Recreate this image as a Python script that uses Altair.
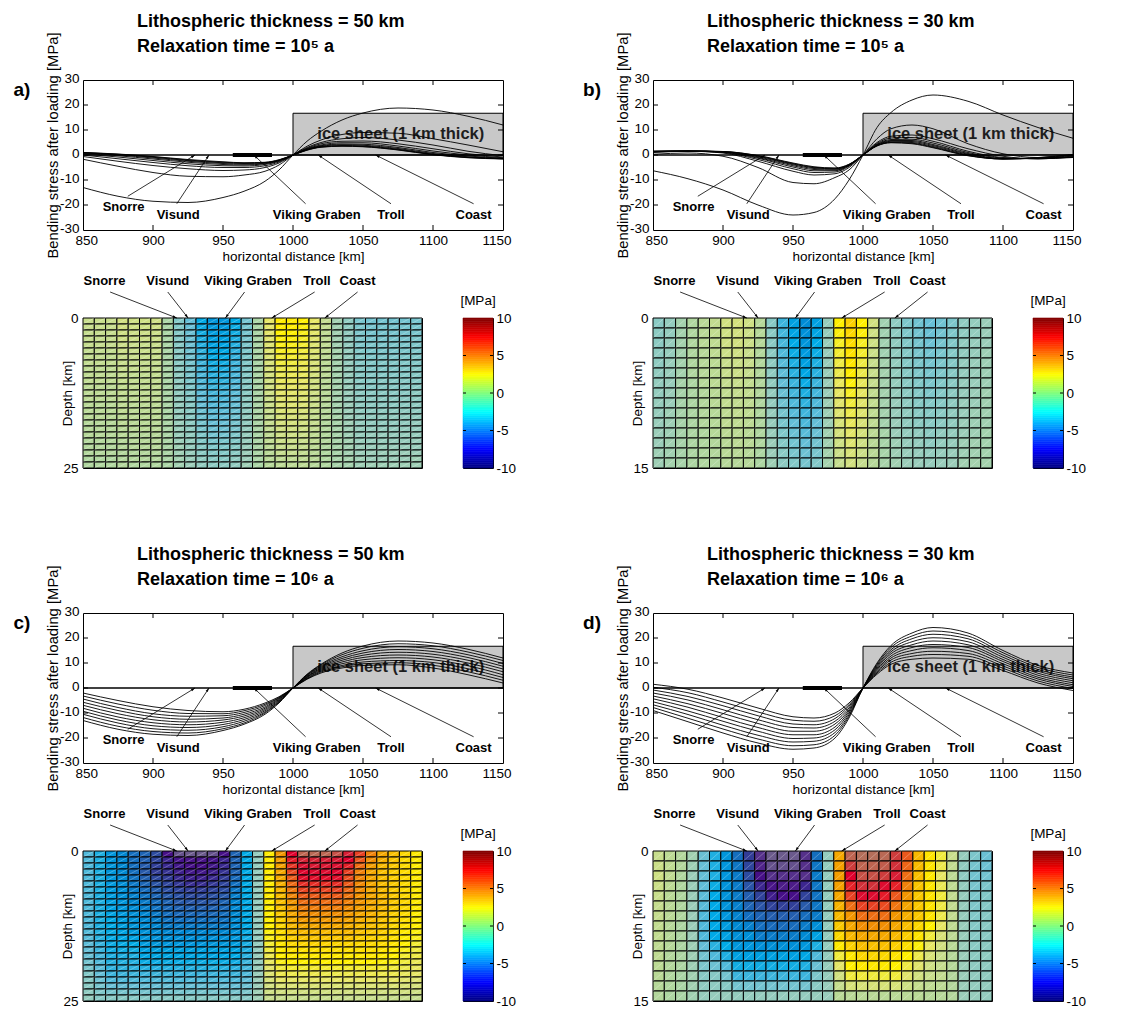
import math
import altair as alt
import pandas as pd

FONT = "Liberation Sans"

# ---------------------------------------------------------------- data
X_KM = [850, 875, 900, 925, 950, 965, 980, 990, 1000, 1010, 1020, 1035, 1050, 1075, 1100, 1125, 1150]

CURVES_A = [
    [-13, -16.5, -18.5, -19, -17, -14.5, -10.5, -6, 0, 5.5, 9.5, 14, 16.8, 18.8, 18, 15.5, 12],
    [-1.7, -4.5, -7, -8.5, -8.7, -8, -6.5, -4, 0, 3.5, 6, 8.2, 9, 8.7, 6.5, 4, 1.3],
    [-0.6, -2.5, -4.2, -5.5, -6.2, -6, -5, -3.2, 0, 3, 5, 6.5, 7, 6, 4, 1.5, -0.3],
    [0, -1.5, -3, -4.3, -5, -5, -4.3, -2.8, 0, 2.7, 4.5, 5.5, 5.6, 4.5, 2.5, 0.5, -0.8],
    [0.4, -0.8, -2.2, -3.5, -4.3, -4.4, -3.8, -2.5, 0, 2.5, 4, 4.9, 4.9, 3.6, 1.6, 0, -1.1],
    [0.6, -0.3, -1.6, -2.9, -3.8, -4, -3.5, -2.3, 0, 2.3, 3.7, 4.4, 4.3, 3, 1, -0.4, -1.3],
    [0.8, 0, -1.2, -2.5, -3.4, -3.7, -3.3, -2.2, 0, 2.2, 3.5, 4.1, 3.9, 2.6, 0.6, -0.7, -1.4],
    [0.9, 0.2, -0.9, -2.2, -3.1, -3.4, -3.1, -2.1, 0, 2.1, 3.3, 3.8, 3.6, 2.3, 0.3, -0.9, -1.5],
    [1, 0.3, -0.7, -2, -2.9, -3.2, -3, -2, 0, 2, 3.2, 3.6, 3.4, 2.1, 0.2, -1, -1.5],
    [1, 0.4, -0.6, -1.8, -2.7, -3.1, -2.9, -1.9, 0, 1.9, 3.1, 3.5, 3.3, 2, 0.1, -1.1, -1.6],
]
CURVES_B = [
    [-6.3, -9.5, -14, -20, -24, -23, -17.5, -10, 0, 11, 17, 22, 24, 21.5, 16, 11, 6.7],
    [0.3, 0.8, -0.5, -5, -11, -11.5, -9, -6, 0, 6.5, 10.5, 12, 10.5, 4.5, 0.5, -1, -1],
    [1, 1.5, 0.8, -2.5, -6.5, -8, -7.5, -5, 0, 5, 7.5, 8, 6.5, 2.5, -0.5, -1.5, -1],
    [1.2, 1.5, 1, -1.8, -5.5, -7, -6.8, -4.5, 0, 4.6, 6.8, 7, 5.5, 1.5, -1, -1.5, -0.8],
    [1.3, 1.6, 1.1, -1.3, -4.8, -6.3, -6.3, -4.3, 0, 4.3, 6.2, 6.3, 4.8, 1, -1.2, -1.5, -0.6],
    [1.4, 1.6, 1.2, -1, -4.3, -5.8, -6, -4.1, 0, 4.1, 5.8, 5.8, 4.2, 0.6, -1.4, -1.4, -0.4],
    [1.4, 1.6, 1.3, -0.7, -3.9, -5.4, -5.7, -4, 0, 3.9, 5.5, 5.4, 3.8, 0.3, -1.5, -1.3, -0.2],
    [1.5, 1.6, 1.3, -0.5, -3.6, -5.1, -5.5, -3.9, 0, 3.8, 5.2, 5, 3.4, 0, -1.6, -1.2, 0],
    [1.5, 1.6, 1.4, -0.3, -3.4, -4.9, -5.3, -3.8, 0, 3.7, 5, 4.7, 3.1, -0.2, -1.6, -1.1, 0.1],
    [1.5, 1.6, 1.4, -0.2, -3.2, -4.7, -5.2, -3.7, 0, 3.6, 4.9, 4.5, 2.9, -0.3, -1.6, -1, 0.2],
]
CURVES_C = [
    [-13, -16.5, -18.5, -19, -17, -14.5, -10.5, -6, 0, 5.5, 9.5, 14, 16.8, 18.8, 18, 15.5, 12],
    [-11.8, -15.3, -17.4, -18, -16.3, -14, -10, -5.7, 0, 5.3, 9.2, 13.3, 15.9, 17.7, 16.9, 14.4, 11],
    [-10.5, -14, -16.3, -16.9, -15.5, -13.3, -9.6, -5.5, 0, 5.1, 8.8, 12.5, 14.9, 16.5, 15.7, 13.3, 9.8],
    [-9.3, -12.8, -15.1, -15.8, -14.6, -12.6, -9.1, -5.2, 0, 4.9, 8.4, 11.8, 14, 15.4, 14.6, 12.2, 8.7],
    [-8.1, -11.6, -13.9, -14.7, -13.7, -11.9, -8.6, -4.9, 0, 4.6, 8, 11.1, 13.1, 14.3, 13.5, 11.1, 7.6],
    [-6.9, -10.3, -12.7, -13.6, -12.8, -11.2, -8.1, -4.6, 0, 4.4, 7.6, 10.4, 12.2, 13.2, 12.4, 10, 6.5],
    [-5.7, -9, -11.5, -12.5, -12, -10.5, -7.6, -4.3, 0, 4.2, 7.2, 9.7, 11.3, 12.1, 11.3, 8.9, 5.3],
    [-4.4, -7.8, -10.3, -11.3, -11.1, -9.8, -7, -4, 0, 3.9, 6.8, 9, 10.4, 11, 10.2, 7.7, 4.2],
    [-3.2, -6.4, -8.9, -10.2, -10.3, -9.1, -6.5, -3.8, 0, 3.7, 6.4, 8.5, 9.7, 10.1, 9.1, 6.5, 3.1],
    [-2, -5, -7.5, -9, -9.5, -8.5, -6, -3.5, 0, 3.5, 6, 8, 9, 9.3, 8, 5.3, 2],
]
CURVES_D = [
    [-9, -13.5, -18, -22, -24.5, -24, -20, -12, 0, 10, 17, 22, 24.2, 22, 15, 9, 6],
    [-7.8, -12.1, -16.4, -20.4, -23.1, -22.7, -18.9, -11.3, 0, 9.5, 16.2, 20.8, 22.8, 20.8, 14.1, 8.2, 5.2],
    [-6.7, -10.6, -14.9, -18.9, -21.6, -21.3, -17.8, -10.7, 0, 9, 15.3, 19.7, 21.5, 19.7, 13.2, 7.4, 4.4],
    [-5.5, -9.2, -13.3, -17.3, -20.2, -20, -16.7, -10, 0, 8.5, 14.5, 18.5, 20.1, 18.5, 12.3, 6.7, 3.7],
    [-4.3, -7.7, -11.8, -15.8, -18.7, -18.7, -15.6, -9.3, 0, 8, 13.7, 17.3, 18.8, 17.3, 11.4, 5.9, 2.9],
    [-3.2, -6.3, -10.2, -14.2, -17.3, -17.3, -14.4, -8.7, 0, 7.5, 12.8, 16.2, 17.4, 16.2, 10.6, 5.1, 2.1],
    [-2, -4.8, -8.7, -12.7, -15.8, -16, -13.3, -8, 0, 7, 12, 15, 16.1, 15, 9.7, 4.3, 1.3],
    [-0.8, -3.4, -7.1, -11.1, -14.4, -14.7, -12.2, -7.3, 0, 6.5, 11.2, 13.8, 14.7, 13.8, 8.8, 3.6, 0.6],
    [0.3, -1.9, -5.6, -9.6, -12.9, -13.3, -11.1, -6.7, 0, 6, 10.3, 12.7, 13.4, 12.7, 7.9, 2.8, -0.2],
    [1.5, -0.5, -4, -8, -11.5, -12, -10, -6, 0, 5.5, 9.5, 11.5, 12, 11.5, 7, 2, -1],
]

STATIONS = ["Snorre", "Visund", "Viking Graben", "Troll", "Coast"]
STATION_KM = [930, 940, 972, 1018, 1059]
LINE_LABEL_KM = [879, 918, 1017, 1070, 1129]
LINE_LABEL_MPA = [-20.8, -24, -24, -24, -24]
LINE_ARROW_KM = [882, 917, 1009, 1070, 1129]
LINE_ARROW_MPA = [-16.5, -19.5, -19.5, -19.5, -19.5]
HEAT_LABEL_KM = [869, 925, 996, 1057, 1093]
HEAT_ARROW_KM = [874, 925, 993, 1055, 1093]
HEAT_TARGET_KM = [933, 943, 976, 1017, 1064]

ICE_KM = [1000, 1150]
ICE_TOP_MPA = 16.7
ICE_TEXT = "ice sheet (1 km thick)"
ICE_TEXT_KM = 1077
ICE_TEXT_MPA = 8.3
GRABEN_KM = [957, 985]

X_TICKS = [850, 900, 950, 1000, 1050, 1100, 1150]
Y_TICKS = [-30, -20, -10, 0, 10, 20, 30]
CBAR_TICKS = [-10, -5, 0, 5, 10]
CBAR_INNER_TICKS = [-5, 0, 5]
CBAR_STEP = 0.25
CBAR_LEVELS = [-10 + CBAR_STEP * i for i in range(80)]
HEAT_COL_KM = 10

# heat-map cells, one string per 10-km column (top -> bottom), in 0.1 MPa
A_P10 = "10 10 9 9 9 8 8 8 7 7 7 6 6 6 5 5 5 4 4 4 3 3 3 2 2"
A_P13 = "13 13 12 12 11 11 10 10 10 9 9 8 8 7 7 7 6 6 5 5 4 4 3 3 3"
A_P12 = "12 12 11 11 10 10 10 9 9 8 8 8 7 7 6 6 6 5 5 4 4 4 3 3 2"
A_Z = "0 0 0 0 0 0 0 0 0 0 0 0 0 0 0 0 0 0 0 0 0 0 0 0 0"
A_N15 = "-15 -15 -14 -14 -13 -12 -12 -12 -11 -10 -10 -9 -9 -8 -8 -8 -7 -6 -6 -6 -5 -4 -4 -3 -3"
A_N25 = "-25 -24 -23 -22 -22 -21 -20 -19 -18 -18 -17 -16 -15 -14 -13 -12 -12 -11 -10 -9 -8 -8 -7 -6 -5"
A_N45 = "-45 -43 -42 -40 -39 -37 -36 -34 -33 -31 -30 -28 -27 -25 -24 -22 -21 -19 -18 -16 -15 -13 -12 -10 -9"
A_N55 = "-55 -53 -51 -49 -48 -46 -44 -42 -40 -38 -37 -35 -33 -31 -29 -27 -26 -24 -22 -20 -18 -16 -15 -13 -11"
A_N20 = "-20 -19 -19 -18 -17 -17 -16 -15 -15 -14 -13 -13 -12 -11 -11 -10 -9 -9 -8 -7 -7 -6 -5 -5 -4"
A_P20 = "20 19 19 18 17 17 16 15 15 14 13 13 12 11 11 10 9 9 8 7 7 6 5 5 4"
A_P32 = "32 31 30 29 28 27 26 25 23 22 21 20 19 18 17 16 15 14 13 12 11 10 9 7 6"
A_P30 = "30 29 28 27 26 25 24 23 22 21 20 19 18 17 16 15 14 13 12 11 10 9 8 7 6"
A_P8 = "8 8 7 7 7 7 6 6 6 6 5 5 5 5 4 4 4 3 3 3 3 2 2 2 2"
A_N3 = "-3 -3 -3 -3 -3 -2 -2 -2 -2 -2 -2 -2 -2 -2 -2 -2 -1 -1 -1 -1 -1 -1 -1 -1 -1"
A_N10 = "-10 -10 -9 -9 -9 -8 -8 -8 -7 -7 -7 -6 -6 -6 -5 -5 -5 -4 -4 -4 -3 -3 -3 -2 -2"
A_N18 = "-18 -17 -17 -16 -16 -15 -14 -14 -13 -13 -12 -11 -11 -10 -10 -9 -8 -8 -7 -7 -6 -5 -5 -4 -4"
A_N19 = "-19 -18 -18 -17 -16 -16 -15 -15 -14 -13 -13 -12 -11 -11 -10 -10 -9 -8 -8 -7 -6 -6 -5 -4 -4"
HEAT_A = [A_P10, A_P10, A_P10, A_P13, A_P12, A_P12, A_P12, A_Z, A_N15, A_N25,
          A_N45, A_N55, A_N55, A_N45, A_N20, A_Z, A_P20, A_P32, A_P32, A_P30,
          A_P20, A_P8, A_N3, A_N10, A_N18, A_N20, A_N20, A_N20, A_N20, A_N19]

B_N12 = "-12 -11 -11 -10 -10 -9 -8 -8 -7 -7 -6 -5 -5 -4 -4"
B_N8 = "-8 -8 -7 -7 -6 -6 -6 -5 -5 -4 -4 -4 -3 -3 -2"
B_N2 = "-2 -2 -2 -2 -2 -2 -1 -1 -1 -1 -1 -1 -1 -1 -1"
B_P2 = "2 2 2 2 2 2 1 1 1 1 1 1 1 1 1"
B_P5 = "5 5 5 4 4 4 4 3 3 3 3 2 2 2 2"
B_P8 = "8 8 7 7 6 6 6 5 5 4 4 4 3 3 2"
B_P13 = "13 12 12 11 10 10 9 8 8 7 7 6 5 5 4"
B_P14 = "14 13 13 12 11 11 10 9 8 8 7 6 6 5 4"
B_P12 = "12 11 11 10 10 9 8 8 7 7 6 5 5 4 4"
B_P4 = "4 4 4 3 3 3 3 3 2 2 2 2 2 1 1"
B_N13 = "-13 -12 -12 -11 -10 -10 -9 -8 -8 -7 -7 -6 -5 -5 -4"
B_N35 = "-35 -33 -32 -30 -28 -26 -25 -23 -21 -19 -18 -16 -14 -12 -11"
B_N50 = "-50 -48 -45 -43 -40 -38 -35 -33 -30 -28 -25 -23 -20 -18 -15"
B_N62 = "-62 -59 -56 -53 -50 -47 -43 -40 -37 -34 -31 -28 -25 -22 -19"
B_N7 = "-7 -7 -6 -6 -6 -5 -5 -5 -4 -4 -4 -3 -3 -2 -2"
B_P30 = "30 29 27 26 24 23 21 20 18 17 15 14 12 11 9"
B_P42 = "42 40 38 36 34 32 29 27 25 23 21 19 17 15 13"
B_N3 = "-3 -3 -3 -3 -2 -2 -2 -2 -2 -2 -2 -1 -1 -1 -1"
B_N10 = "-10 -10 -9 -9 -8 -8 -7 -7 -6 -6 -5 -5 -4 -4 -3"
B_N17 = "-17 -16 -15 -14 -14 -13 -12 -11 -10 -9 -9 -8 -7 -6 -5"
B_N21 = "-21 -20 -19 -18 -17 -16 -15 -14 -13 -12 -11 -9 -8 -7 -6"
B_N24 = "-24 -23 -22 -20 -19 -18 -17 -16 -14 -13 -12 -11 -10 -8 -7"
B_N5 = "-5 -5 -5 -4 -4 -4 -4 -3 -3 -3 -3 -2 -2 -2 -2"
HEAT_B = [B_N12, B_N8, B_N2, B_P2, B_P5, B_P8, B_P13, B_P14, B_P12, B_P4,
          B_N13, B_N35, B_N50, B_N62, B_N50, B_N7, B_P30, B_P42, B_P30, B_P13,
          B_N3, B_N10, B_N17, B_N21, B_N24, B_N21, B_N17, B_N10, B_N8, B_N5]

C_N105 = "-105 -100 -99 -97 -95 -92 -89 -85 -80 -78 -75 -73 -70 -65 -60 -55 -50 -47 -43 -39 -35 -30 -24 -19 -13"
C_N115 = "-115 -104 -103 -101 -99 -96 -92 -88 -85 -81 -78 -74 -70 -65 -60 -55 -50 -47 -43 -39 -35 -30 -24 -19 -13"
C_N120 = "-120 -106 -105 -103 -101 -98 -94 -90 -86 -82 -78 -74 -70 -65 -60 -55 -50 -47 -43 -39 -35 -30 -24 -19 -13"
HEAT_C = [
    "-30 -30 -30 -30 -30 -30 -30 -30 -30 -30 -30 -30 -30 -29 -28 -27 -25 -23 -20 -18 -15 -13 -12 -10 -8",
    "-40 -40 -40 -40 -40 -40 -40 -40 -40 -40 -40 -40 -40 -39 -38 -36 -35 -32 -30 -27 -25 -22 -19 -16 -13",
    "-55 -55 -55 -55 -54 -53 -52 -51 -50 -49 -48 -46 -45 -44 -44 -43 -42 -40 -39 -37 -35 -30 -24 -19 -13",
    "-65 -65 -64 -63 -61 -60 -58 -57 -55 -54 -53 -51 -50 -48 -46 -44 -42 -40 -39 -37 -35 -30 -24 -19 -13",
    "-75 -75 -75 -75 -73 -71 -69 -67 -65 -62 -60 -57 -55 -52 -49 -45 -42 -40 -39 -37 -35 -30 -24 -19 -13",
    "-80 -82 -84 -85 -82 -79 -76 -73 -70 -68 -65 -63 -60 -58 -55 -52 -50 -47 -43 -39 -35 -30 -24 -19 -13",
    "-90 -92 -94 -95 -91 -87 -83 -79 -75 -73 -70 -68 -65 -61 -58 -54 -50 -47 -43 -39 -35 -30 -24 -19 -13",
    C_N105, C_N115, C_N120, C_N120, C_N115, C_N105,
    "-80 -80 -80 -80 -77 -74 -71 -68 -65 -64 -63 -61 -60 -57 -54 -51 -48 -45 -42 -38 -35 -30 -24 -19 -13",
    "-45 -45 -45 -45 -45 -45 -45 -45 -45 -45 -45 -45 -45 -44 -42 -41 -40 -38 -35 -33 -30 -26 -22 -17 -13",
    "-8 -8 -8 -8 -8 -8 -8 -8 -8 -8 -8 -8 -8 -8 -8 -8 -8 -7 -7 -6 -6 -5 -5 -4 -4",
    "32 32 32 32 32 32 32 32 32 31 31 30 30 29 28 26 25 23 21 19 17 15 13 12 10",
    "60 58 57 55 54 52 51 49 48 46 44 42 40 38 36 34 32 30 28 25 23 20 16 13 10",
    "90 86 82 78 74 71 67 64 60 58 55 53 50 47 43 40 37 33 30 26 23 20 16 13 10",
    "110 96 93 91 88 83 79 74 70 66 62 59 55 50 46 41 37 33 30 26 23 20 16 13 10",
    "115 96 94 92 88 83 79 74 70 66 62 59 55 50 46 41 37 33 30 26 23 20 16 13 10",
    "112 95 94 92 88 83 79 74 70 66 62 59 55 50 46 41 37 33 30 26 23 20 16 13 10",
    "105 94 93 91 88 83 79 74 70 66 62 59 55 50 46 41 37 33 30 26 23 20 16 13 10",
    "95 90 85 80 77 74 71 68 65 62 59 56 53 50 46 41 37 33 30 26 23 20 16 13 10",
    "80 75 70 65 64 63 62 61 60 58 55 53 50 47 43 40 37 33 30 26 23 20 16 13 10",
    "65 62 58 55 55 55 55 55 55 53 52 50 48 45 42 40 37 33 30 26 23 20 16 13 10",
    "55 53 50 48 48 49 49 50 50 49 48 46 45 43 40 38 35 32 29 26 23 20 16 13 10",
    "48 46 45 43 43 44 44 45 45 44 43 42 40 38 36 34 32 30 28 25 23 20 16 13 10",
    "40 39 39 38 38 39 39 40 40 39 38 37 35 33 31 30 28 26 25 23 21 18 15 13 10",
    "32 32 32 32 32 33 33 33 33 32 31 31 30 29 28 26 25 24 22 21 20 17 14 12 9",
]

HEAT_D = [
    "10 11 12 11 10 9 9 8 8 7 7 6 5 4 3",
    "6 7 7 6 5 5 5 4 4 4 3 3 2 2 1",
    "3 3 2 2 2 2 2 1 1 1 1 1 0 0 0",
    "-3 -4 -5 -5 -5 -5 -5 -5 -5 -4 -4 -4 -3 -3 -3",
    "-23 -24 -25 -26 -27 -28 -30 -30 -30 -25 -20 -17 -13 -10 -7",
    "-40 -40 -40 -43 -45 -45 -45 -45 -45 -38 -30 -22 -13 -10 -7",
    "-55 -55 -55 -57 -58 -57 -55 -52 -50 -45 -40 -30 -20 -13 -7",
    "-75 -72 -70 -70 -70 -68 -67 -64 -60 -55 -50 -42 -35 -20 -8",
    "-95 -92 -90 -87 -83 -80 -75 -68 -60 -55 -50 -42 -35 -20 -8",
    "-110 -108 -105 -100 -93 -87 -80 -75 -70 -60 -50 -42 -35 -20 -8",
    "-120 -115 -110 -106 -102 -93 -83 -77 -70 -60 -50 -42 -35 -20 -8",
    "-120 -115 -110 -107 -105 -94 -83 -77 -70 -60 -50 -42 -35 -20 -8",
    "-120 -115 -110 -107 -105 -94 -83 -77 -70 -60 -50 -42 -35 -20 -8",
    "-110 -110 -110 -100 -93 -85 -76 -70 -63 -55 -47 -40 -35 -20 -8",
    "-75 -72 -70 -72 -73 -72 -70 -60 -50 -40 -30 -23 -17 -12 -7",
    "-8 -8 -8 -8 -8 -8 -8 -8 -8 -8 -8 -7 -7 -6 -6",
    "55 57 58 57 55 52 50 45 40 33 25 19 13 9 5",
    "110 100 90 85 80 70 60 55 50 42 33 30 25 15 5",
    "120 110 105 98 92 80 70 62 55 48 40 33 25 15 5",
    "120 110 105 98 92 80 70 62 55 48 40 33 25 15 5",
    "115 108 100 92 86 78 70 62 55 48 40 33 25 15 5",
    "100 98 95 85 75 68 60 55 50 43 35 30 25 15 5",
    "75 72 70 65 60 56 53 48 43 37 30 24 18 12 5",
    "50 49 48 46 45 45 45 40 35 29 23 18 13 9 5",
    "35 34 33 34 35 35 35 30 25 20 15 12 10 7 4",
    "25 23 20 22 25 24 23 20 15 13 10 9 8 6 4",
    "10 8 6 7 8 8 8 7 6 5 4 4 3 3 3",
    "-7 -9 -10 -8 -7 -7 -7 -6 -6 -6 -5 -5 -5 -5 -5",
    "-17 -19 -20 -18 -17 -16 -15 -14 -13 -12 -11 -10 -9 -8 -7",
    "-23 -22 -20 -17 -15 -14 -13 -12 -12 -11 -10 -10 -9 -8 -8",
]

PANELS = [
    {"letter": "a)", "title": ["Lithospheric thickness = 50 km", "Relaxation time = 10\u2075 a"],
     "curves": CURVES_A, "heat": HEAT_A, "depth": 25},
    {"letter": "b)", "title": ["Lithospheric thickness = 30 km", "Relaxation time = 10\u2075 a"],
     "curves": CURVES_B, "heat": HEAT_B, "depth": 15},
    {"letter": "c)", "title": ["Lithospheric thickness = 50 km", "Relaxation time = 10\u2076 a"],
     "curves": CURVES_C, "heat": HEAT_C, "depth": 25},
    {"letter": "d)", "title": ["Lithospheric thickness = 30 km", "Relaxation time = 10\u2076 a"],
     "curves": CURVES_D, "heat": HEAT_D, "depth": 15},
]

# ---------------------------------------------------------------- style
LW, LH = 420, 150
HW, HH = 339, 150
CW = 30
TICK_PX = 5
LABEL_FS = 13.5
ARROW_SHAPE = "M0,0L-0.45,1.5L0.45,1.5Z"

CELL_STOPS = [-12, -11.5, -10.5, -9.5, -8.5, -7.5, -6.5, -5.5, -4.5, -3.5, -2.5, -1.5, -0.5,
              0, 0.5, 1, 1.5, 2, 2.5, 3, 4, 5, 6, 7, 8, 9, 10, 11, 12]
CELL_COLORS = ["#6b5a8c", "#64508c", "#460f87", "#323c96", "#285aaa", "#146ebe", "#0087d2",
               "#0096dc", "#00aae6", "#3cb4dc", "#64bed7", "#82c8c8", "#9bcdb9",
               "#aad5a5", "#b9d996", "#c8de8c", "#d7e278", "#e6e664", "#f0eb3c", "#fff000",
               "#fcd700", "#f8b900", "#f29600", "#ee6e14", "#e84123", "#e1002d", "#cd3c3c",
               "#be6450", "#b46e5a"]
JET_STOPS = [-10, -7.5, -2.5, 2.5, 7.5, 10]
JET_COLORS = ["#00007f", "#0000ff", "#00ffff", "#ffff00", "#ff0000", "#7f0000"]

LABEL_EXPR = "'' + datum.value"


def arrow_angle(dx_px, dy_px):
    return (math.degrees(math.atan2(dx_px, -dy_px)) + 360.0) % 360.0


def line_chart(p):
    xs = alt.Scale(domain=[X_TICKS[0], X_TICKS[-1]], nice=False, zero=False)
    ys = alt.Scale(domain=[Y_TICKS[0], Y_TICKS[-1]], nice=False, zero=False)
    xax = alt.Axis(values=X_TICKS, labelExpr=LABEL_EXPR, title="horizontal distance [km]",
                   labelFlush=True, labelFlushOffset=8, labelPadding=3, titlePadding=3,
                   labelFontSize=LABEL_FS, titleFontSize=13.5)
    yax = alt.Axis(values=Y_TICKS, labelExpr=LABEL_EXPR, title="Bending stress after loading [MPa]",
                   labelPadding=4, labelOffset=-1.5, labelFontSize=LABEL_FS, titleFontSize=14.8,
                   titleX=-23, titleY=65)

    def X(f):
        return alt.X(f"{f}:Q", scale=xs, axis=xax)

    def Y(f):
        return alt.Y(f"{f}:Q", scale=ys, axis=yax)

    kx = LW / (X_TICKS[-1] - X_TICKS[0])
    ky = LH / (Y_TICKS[-1] - Y_TICKS[0])

    rows = []
    for k, vals in enumerate(p["curves"]):
        for x, y in zip(X_KM, vals):
            rows.append({"k": k, "x": x, "y": y})
    cdf = pd.DataFrame(rows)

    ice_df = pd.DataFrame({"x0": [ICE_KM[0]], "x1": [ICE_KM[1]], "y0": [0], "y1": [ICE_TOP_MPA],
                           "xm": [ICE_TEXT_KM], "ym": [ICE_TEXT_MPA], "label": [ICE_TEXT]})
    ice = alt.Chart(ice_df).mark_rect(fill="#c8c8c8", stroke="black", strokeWidth=1).encode(
        x=X("x0"), x2="x1", y=Y("y0"), y2="y1")
    ice_txt = alt.Chart(ice_df).mark_text(font=FONT, fontSize=16.5, fontWeight="bold",
                                          color="#1e1e1e").encode(x=X("xm"), y=Y("ym"), text="label:N")

    seg_df = pd.DataFrame({"x0": [X_TICKS[0], GRABEN_KM[0]], "x1": [X_TICKS[-1], GRABEN_KM[1]],
                           "y": [0, 0], "w": [1.5, 4]})
    segs = alt.Chart(seg_df).mark_rule(color="black").encode(
        x=X("x0"), x2="x1", y=Y("y"), strokeWidth=alt.StrokeWidth("w:Q", scale=None))

    curves = alt.Chart(cdf).mark_line(color="black", strokeWidth=0.9, interpolate="monotone").encode(
        x=X("x"), y=Y("y"), detail="k:N")

    adf = pd.DataFrame({"name": STATIONS, "xs": LINE_ARROW_KM, "ys": LINE_ARROW_MPA,
                        "xt": STATION_KM, "yt": [0] * len(STATIONS),
                        "xl": LINE_LABEL_KM, "yl": LINE_LABEL_MPA})
    adf["ang"] = [arrow_angle((xt - x0) * kx, y0 * ky) for x0, y0, xt in
                  zip(adf["xs"], adf["ys"], adf["xt"])]
    arrows = alt.Chart(adf).mark_rule(color="black", strokeWidth=0.8).encode(
        x=X("xs"), y=Y("ys"), x2="xt", y2="yt")
    heads = alt.Chart(adf).mark_point(shape=ARROW_SHAPE, filled=True, color="black", size=30,
                                      opacity=1).encode(
        x=X("xt"), y=Y("yt"), angle=alt.Angle("ang:Q", scale=None))
    labels = alt.Chart(adf).mark_text(font=FONT, fontSize=13, fontWeight="bold", color="black").encode(
        x=X("xl"), y=Y("yl"), text="name:N")

    tx = TICK_PX / kx
    ty = TICK_PX / ky
    trows = []
    for t in X_TICKS[1:-1]:
        trows.append({"x0": t, "x1": t, "y0": Y_TICKS[0], "y1": Y_TICKS[0] + ty})
        trows.append({"x0": t, "x1": t, "y0": Y_TICKS[-1], "y1": Y_TICKS[-1] - ty})
    for t in Y_TICKS[1:-1]:
        trows.append({"x0": X_TICKS[0], "x1": X_TICKS[0] + tx, "y0": t, "y1": t})
        trows.append({"x0": X_TICKS[-1], "x1": X_TICKS[-1] - tx, "y0": t, "y1": t})
    ticks = alt.Chart(pd.DataFrame(trows)).mark_rule(color="black", strokeWidth=1).encode(
        x=X("x0"), x2="x1", y=Y("y0"), y2="y1")

    letter = alt.Chart(pd.DataFrame({"t": [p["letter"]]})).mark_text(
        font=FONT, fontSize=19, fontWeight="bold", color="black", align="center", baseline="middle"
    ).encode(x=alt.value(-61), y=alt.value(10), text="t:N")

    title = alt.TitleParams(text=p["title"], anchor="start", frame="group", dx=54, offset=-24,
                            fontSize=18, fontWeight="bold", lineHeight=25, font=FONT, color="black")

    return alt.layer(ice, ice_txt, segs, curves, arrows, heads, labels, ticks, letter).properties(
        width=LW, height=LH, title=title)


def heat_chart(p):
    depth = p["depth"]
    cols = [[int(v) for v in s.split()] for s in p["heat"]]
    nr = max(len(c) for c in cols)
    dz = depth / nr
    rows = []
    for i, col in enumerate(cols):
        for r, v in enumerate(col):
            rows.append({"x0": X_TICKS[0] + HEAT_COL_KM * i, "x1": X_TICKS[0] + HEAT_COL_KM * (i + 1),
                         "d0": r * dz, "d1": (r + 1) * dz, "v": v / 10.0})
    df = pd.DataFrame(rows)
    xs = alt.Scale(domain=[X_TICKS[0], X_TICKS[-1]], nice=False, zero=False)
    ys = alt.Scale(domain=[0, depth], nice=False, zero=False, reverse=True)
    yax = alt.Axis(values=[0, depth], labelExpr=LABEL_EXPR, title="Depth [km]", labelPadding=5,
                   titleX=-9, titleY=HH / 2, labelFontSize=LABEL_FS, titleFontSize=13.5)

    def X(f):
        return alt.X(f"{f}:Q", scale=xs, axis=None)

    def Y(f):
        return alt.Y(f"{f}:Q", scale=ys, axis=yax)

    cell_scale = alt.Scale(domain=CELL_STOPS, range=CELL_COLORS, interpolate="rgb", clamp=True)
    cells = alt.Chart(df).mark_rect(stroke="black", strokeWidth=1).encode(
        x=X("x0"), x2="x1", y=Y("d0"), y2="d1",
        color=alt.Color("v:Q", scale=cell_scale, legend=None))
    diag = alt.Chart(df).mark_rule(color="white", strokeWidth=0.6, opacity=0.45).encode(
        x=X("x0"), x2="x1", y=Y("d1"), y2="d0")

    kx = HW / (X_TICKS[-1] - X_TICKS[0])
    st = pd.DataFrame({"name": STATIONS, "xl": HEAT_LABEL_KM, "xs": HEAT_ARROW_KM, "xt": HEAT_TARGET_KM})
    st["ang"] = [arrow_angle((xt - x0) * kx, 26) for x0, xt in zip(st["xs"], st["xt"])]
    lab = alt.Chart(st).mark_text(font=FONT, fontSize=13, fontWeight="bold", color="black").encode(
        x=X("xl"), y=alt.value(-37), text="name:N")
    arr = alt.Chart(st).mark_rule(color="black", strokeWidth=0.8).encode(
        x=X("xs"), x2="xt", y=alt.value(-26), y2=alt.value(0))
    head = alt.Chart(st).mark_point(shape=ARROW_SHAPE, filled=True, color="black", size=30,
                                    opacity=1).encode(
        x=X("xt"), y=alt.value(0), angle=alt.Angle("ang:Q", scale=None))
    return alt.layer(cells, diag, arr, head, lab).properties(width=HW, height=HH)


def cbar_chart():
    df = pd.DataFrame({"c0": CBAR_LEVELS,
                       "c1": [l + CBAR_STEP for l in CBAR_LEVELS],
                       "cv": [l + CBAR_STEP / 2 for l in CBAR_LEVELS]})
    cs = alt.Scale(domain=[CBAR_TICKS[0], CBAR_TICKS[-1]], nice=False, zero=False)
    cax = alt.Axis(orient="right", values=CBAR_TICKS, labelExpr=LABEL_EXPR, labelPadding=3,
                   labelFontSize=LABEL_FS, title=None)
    jet = alt.Scale(domain=JET_STOPS, range=JET_COLORS, interpolate="rgb")
    bar = alt.Chart(df).mark_rect(strokeWidth=0.6).encode(
        x=alt.value(0), x2=alt.value(CW),
        y=alt.Y("c0:Q", scale=cs, axis=cax), y2="c1",
        fill=alt.Fill("cv:Q", scale=jet, legend=None),
        stroke=alt.Stroke("cv:Q", scale=jet, legend=None))
    tk = pd.DataFrame({"t": CBAR_INNER_TICKS})
    tl = alt.Chart(tk).mark_rule(color="black", strokeWidth=1).encode(
        y=alt.Y("t:Q", scale=cs, axis=cax), x=alt.value(0), x2=alt.value(3))
    tr = alt.Chart(tk).mark_rule(color="black", strokeWidth=1).encode(
        y=alt.Y("t:Q", scale=cs, axis=cax), x=alt.value(CW - 3), x2=alt.value(CW))
    title = alt.TitleParams("[MPa]", fontSize=13.5, fontWeight="normal", offset=4, font=FONT,
                            color="black", anchor="middle")
    return alt.layer(bar, tl, tr).properties(width=CW, height=HH, title=title)


panels = []
for p in PANELS:
    heat_row = alt.hconcat(heat_chart(p), cbar_chart(), spacing=41, bounds="flush")
    panels.append(alt.vconcat(line_chart(p), heat_row, spacing=88, bounds="flush"))

row1 = alt.hconcat(panels[0], panels[1], spacing=570, bounds="flush")
row2 = alt.hconcat(panels[2], panels[3], spacing=570, bounds="flush")

chart = alt.vconcat(row1, row2, spacing=533, bounds="flush").properties(
    padding={"left": 13, "top": 12, "right": 5, "bottom": 0}
).configure(font=FONT).configure_view(stroke="black", strokeWidth=1).configure_axis(
    labelFont=FONT, titleFont=FONT, labelColor="black", titleColor="black",
    domain=False, ticks=False, grid=False, titleFontWeight="normal"
).configure_title(font=FONT, color="black")

chart.save("out.html", embed_options={"renderer": "svg", "actions": False})
